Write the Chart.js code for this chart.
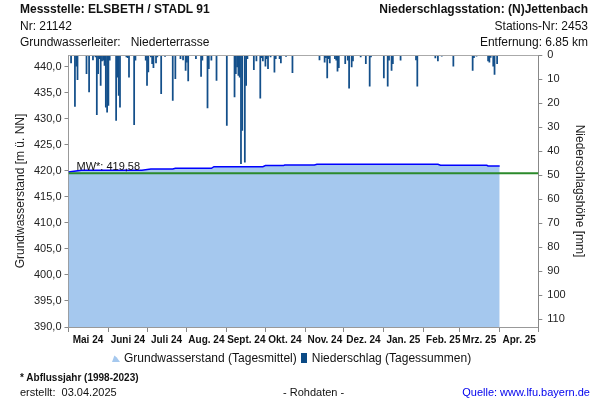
<!DOCTYPE html>
<html>
<head>
<meta charset="utf-8">
<script src="https://cdn.jsdelivr.net/npm/chart.js@4"></script>
<style>
  body { margin: 0; background: #fff; }
  #wrap { position: relative; width: 600px; height: 400px; font-family: "Liberation Sans", Arial, sans-serif; color: #111; }
  #wrap canvas { position: absolute; left: 0; top: 0; }
  .txt { position: absolute; font-size: 12px; line-height: 14px; white-space: pre; }
  .b { font-weight: bold; }
  .r { text-align: right; }
  .icon1 { display: inline-block; width: 8px; height: 8px; background: #a5c8ee; clip-path: polygon(0 100%, 30% 20%, 60% 45%, 100% 100%); margin-right: 4px; }
  .icon2 { display: inline-block; width: 6px; height: 10px; background: #0b4a85; margin: 0 5px 0 4px; vertical-align: -1px; }
</style>
</head>
<body>
<div id="wrap">
  <canvas id="chart" width="600" height="400"></canvas>
  <div class="txt b" style="left:20px;top:2px">Messstelle: ELSBETH / STADL 91</div>
  <div class="txt" style="left:20px;top:19px">Nr: 21142</div>
  <div class="txt" style="left:20px;top:35px">Grundwasserleiter:   Niederterrasse</div>
  <div class="txt b r" style="right:12px;top:2px">Niederschlagsstation: (N)Jettenbach</div>
  <div class="txt r" style="right:12px;top:19px">Stations-Nr: 2453</div>
  <div class="txt r" style="right:12px;top:35px">Entfernung: 6.85 km</div>

  <div class="txt" style="left:112px;top:351px"><span class="icon1"></span>Grundwasserstand (Tagesmittel)<span class="icon2"></span>Niederschlag (Tagessummen)</div>

  <div class="txt b" style="left:20px;top:371px;font-size:10px">* Abflussjahr (1998-2023)</div>
  <div class="txt" style="left:20px;top:385px;font-size:11px">erstellt:  03.04.2025</div>
  <div class="txt" style="left:283px;top:385px;font-size:11px">- Rohdaten -</div>
  <div class="txt r" style="right:10px;top:385px;font-size:11px;color:#0000ee">Quelle: www.lfu.bayern.de</div>
</div>

<script>
// x axis: days since 01.05.2024
const monthStarts = [0, 31, 61, 92, 123, 153, 184, 214, 245, 276, 304, 335, 365];
const monthLabels = ["Mai 24", "Juni 24", "Juli 24", "Aug. 24", "Sept. 24", "Okt. 24", "Nov. 24",
  "Dez. 24", "Jan. 25", "Feb. 25", "Mrz. 25", "Apr. 25"];

// Grundwasserstand (Tagesmittel), m ü. NN
const gwDays = [0, 10, 57, 64, 81, 83, 111, 113, 151, 153, 167, 168, 191, 193, 287, 289, 325, 326, 335];
const gwLevels = [419.81, 420.13, 420.13, 420.38, 420.38, 420.51, 420.51, 420.83, 420.83, 421.03,
  421.03, 421.15, 421.15, 421.28, 421.28, 421.09, 421.09, 420.96, 420.96];

// Mittelwert
const mwValue = 419.58;

// Niederschlag (Tagessummen), mm
const precipDays = [2, 5, 6, 7, 14, 16, 19, 21, 22, 23, 24, 25, 26, 27, 28, 29, 30, 31, 32, 37, 38, 39, 40,
  45, 46, 47, 51, 52, 60, 61, 62, 64, 65, 66, 68, 69, 72, 75, 81, 83, 87, 89,
  91, 92, 93, 99, 103, 104, 108, 109, 111, 115, 123, 129, 130, 131, 132, 133, 134, 135, 137, 138, 139,
  144, 146, 149, 150, 151, 153, 154, 155, 157, 160, 161, 164, 165, 169, 174,
  195, 199, 200, 201, 202, 203, 207, 208, 209, 210, 215, 217, 218, 220, 221, 227, 231, 234, 235,
  245, 248, 249, 251, 252, 258, 266, 270, 271,
  285, 287, 290, 299, 314, 315, 317, 326, 327, 328, 330, 331, 333];
const precipMm = [3.3, 21.4, 4.7, 10.3, 7.8, 15.4, 2, 0.8, 24.9, 7.8, 1.5, 12.7, 2.5, 2.2, 4.3, 21.7, 23.8, 21, 2.2, 27.2, 9.2, 16.8, 21.7,
  0.8, 1.1, 9.2, 29, 2.2, 2.2, 12.7, 7, 0.8, 3.6, 5.3, 3.3, 0.8, 16.1, 0.6, 18.9, 9.9, 1.5, 2,
  6.4, 3, 10.8, 1.5, 8.9, 2.2, 22, 5.7, 2.2, 10.6, 29.3, 17.5, 7.8, 5, 8.5, 9.2, 45.3, 31.4, 44.6, 12.7, 1.5,
  6.1, 2.5, 18, 1.1, 2.5, 4.7, 1.5, 5.7, 0.8, 7.1, 1.5, 1.5, 3.3, 0.6, 7.4,
  2, 3, 1.1, 9.5, 1.5, 3.3, 1.5, 2.2, 6.7, 5.3, 3.6, 2.2, 13.8, 5, 2.5, 0.8, 3.6, 13, 0.8,
  9.5, 13, 2.2, 6.4, 3.6, 2.2, 0.3, 2, 13,
  1.2, 2.5, 0.5, 4.7, 6.4, 1.1, 0.5, 2.5, 3, 1, 4.7, 8.1, 3.6];

Chart.defaults.font.family = '"Liberation Sans", Arial, sans-serif';
Chart.defaults.color = "#222";

// frame on top of the plot + MW label
const framePlugin = {
  id: "frame",
  afterDatasetsDraw(chart) {
    const { ctx, chartArea: a, scales } = chart;
    ctx.save();
    ctx.strokeStyle = "#aaa";
    ctx.lineWidth = 1;
    ctx.beginPath();
    ctx.moveTo(a.left, a.top + 0.5);
    ctx.lineTo(a.right, a.top + 0.5);
    ctx.stroke();
    ctx.fillStyle = "#111";
    ctx.font = '11px "Liberation Sans", Arial, sans-serif';
    ctx.textBaseline = "bottom";
    ctx.fillText("MW*: " + mwValue.toFixed(2).replace(".", ","), a.left + 8, scales.y.getPixelForValue(mwValue) - 1);
    ctx.restore();
  }
};

function fixSize(w, h) {
  return function(scale) {
    if (w !== null) scale.width = w;
    if (h !== null) scale.height = h;
    scale.paddingLeft = 0; scale.paddingRight = 0;
    scale.paddingTop = 0; scale.paddingBottom = 0;
  };
}

const ctx = document.getElementById("chart").getContext("2d");
new Chart(ctx, {
  type: "line",
  data: {
    datasets: [
      {
        type: "bar",
        label: "Niederschlag (Tagessummen)",
        data: precipDays.map((d, i) => ({ x: d, y: precipMm[i] })),
        yAxisID: "y2",
        backgroundColor: "#134f8a",
        barThickness: 1.1,
        order: 1
      },
      {
        label: "MW",
        data: [{ x: 0, y: mwValue }, { x: 365, y: mwValue }],
        yAxisID: "y",
        borderColor: "#2b8a2b",
        borderWidth: 2,
        pointRadius: 0,
        order: 2
      },
      {
        label: "Grundwasserstand (Tagesmittel)",
        data: gwDays.map((d, i) => ({ x: d, y: gwLevels[i] })),
        yAxisID: "y",
        borderColor: "#0000ff",
        borderWidth: 1.5,
        backgroundColor: "#a5c8ee",
        fill: "start",
        pointRadius: 0,
        tension: 0,
        order: 3
      }
    ]
  },
  options: {
    responsive: false,
    animation: false,
    layout: { padding: { top: 55, bottom: 53, left: 0, right: 0 } },
    plugins: { legend: { display: false }, tooltip: { enabled: false } },
    scales: {
      x: {
        type: "linear",
        min: 0,
        max: 365,
        offset: false,
        afterBuildTicks: s => { s.ticks = monthStarts.map(v => ({ value: v })); },
        afterFit: fixSize(null, 20),
        ticks: {
          autoSkip: false,
          maxRotation: 0,
          labelOffset: 19.5,
          padding: 2,
          font: { size: 10, weight: "bold" },
          color: "#111",
          callback: (v, i) => monthLabels[i] || ""
        },
        grid: { drawOnChartArea: false, tickLength: 5, color: "#888", offset: false },
        border: { color: "#999" }
      },
      y: {
        position: "left",
        min: 390,
        max: 442.3,
        afterFit: fixSize(68.5, null),
        ticks: {
          stepSize: 5,
          includeBounds: false,
          padding: 3,
          font: { size: 11 },
          callback: v => v.toFixed(1).replace(".", ",")
        },
        title: { display: true, text: "Grundwasserstand [m ü. NN]", font: { size: 12 }, padding: { top: 13, bottom: 0 } },
        grid: { drawOnChartArea: false, tickLength: 4, color: "#888" },
        border: { color: "#999" }
      },
      y2: {
        position: "right",
        min: 0,
        max: 113.3,
        reverse: true,
        afterFit: fixSize(61.7, null),
        ticks: {
          stepSize: 10,
          includeBounds: false,
          padding: 5,
          font: { size: 11 }
        },
        title: { display: true, text: "Niederschlagshöhe [mm]", font: { size: 12 }, padding: { top: 13, bottom: 0 } },
        grid: { drawOnChartArea: false, tickLength: 4, color: "#888" },
        border: { color: "#888" }
      }
    }
  },
  plugins: [framePlugin]
});
</script>
</body>
</html>
